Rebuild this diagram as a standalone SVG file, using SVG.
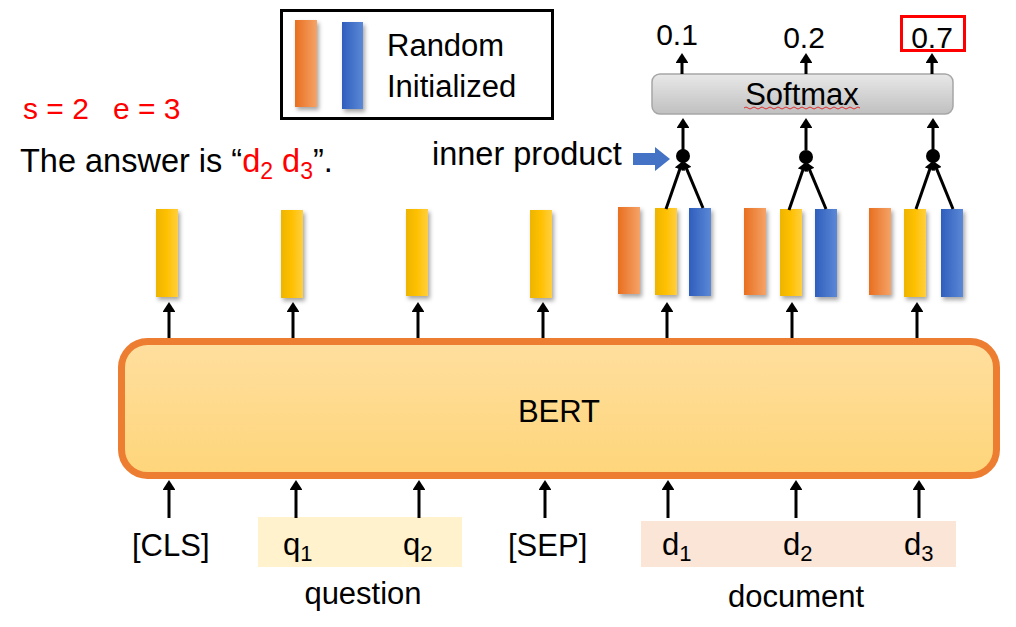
<svg xmlns="http://www.w3.org/2000/svg" width="1016" height="627" viewBox="0 0 1016 627">
<style>
text{font-family:"Liberation Sans",Arial,sans-serif;font-size:31px;fill:#000}
.red{fill:#FF0000}
.sub{font-size:22px}
.n30{font-size:30px}
.big{font-size:32.5px}
.conn{stroke:#000;stroke-width:3;fill:none}
.o{fill:url(#gO);filter:url(#sh)}
.y{fill:url(#gY);filter:url(#sh)}
.b{fill:url(#gB);filter:url(#sh)}
</style>
<defs>
<linearGradient id="gO" x1="0" x2="1" y1="0" y2="0"><stop offset="0" stop-color="#E86F1F"/><stop offset="1" stop-color="#F5A368"/></linearGradient>
<linearGradient id="gY" x1="0" x2="1" y1="0" y2="0"><stop offset="0" stop-color="#EDB500"/><stop offset="0.5" stop-color="#FFC000"/><stop offset="1" stop-color="#FFCF40"/></linearGradient>
<linearGradient id="gB" x1="0" x2="1" y1="0" y2="0"><stop offset="0" stop-color="#2E5EBD"/><stop offset="1" stop-color="#5C88D6"/></linearGradient>
<linearGradient id="gBert" x1="0" x2="0" y1="0" y2="1"><stop offset="0" stop-color="#FFDF9F"/><stop offset="1" stop-color="#FED57A"/></linearGradient>
<linearGradient id="gSm" x1="0" x2="0" y1="0" y2="1"><stop offset="0" stop-color="#E8E8E8"/><stop offset="1" stop-color="#C0C0C0"/></linearGradient>
<filter id="sh" x="-30%" y="-10%" width="170%" height="130%"><feDropShadow dx="2" dy="3" stdDeviation="2" flood-color="#000" flood-opacity="0.35"/></filter>
<marker id="ah" viewBox="0 0 10 13" refX="2" refY="6.5" markerWidth="3.3" markerHeight="4.3" orient="auto" markerUnits="strokeWidth"><path d="M0,0 L10,6.5 L0,13 Z" fill="#000"/></marker>
<marker id="ahs" viewBox="0 0 10 13" refX="2" refY="6.5" markerWidth="3" markerHeight="3.6" orient="auto" markerUnits="strokeWidth"><path d="M0,0 L10,6.5 L0,13 Z" fill="#000"/></marker>
</defs>
<rect width="1016" height="627" fill="#fff"/>

<g id="legend">
<rect x="281.5" y="10.5" width="271" height="108" fill="#fff" stroke="#000" stroke-width="3"/>
<rect class="o" x="295" y="20" width="22" height="87"/>
<rect class="b" x="342" y="22" width="21" height="87"/>
<text x="387" y="56">Random</text>
<text x="387" y="97">Initialized</text>
</g>

<g id="answer">
<text class="red n30" x="23" y="119">s = 2</text>
<text class="red n30" x="113" y="119">e = 3</text>
<text class="big" x="20" y="172">The answer is “<tspan class="red">d<tspan style="font-size:23px" dy="7">2</tspan><tspan dy="-7"> d</tspan><tspan style="font-size:23px" dy="7">3</tspan></tspan><tspan dy="-7">”.</tspan></text>
</g>

<g id="softmax">
<rect x="652" y="74" width="301" height="40" rx="8" fill="url(#gSm)" stroke="#A6A6A6" stroke-width="1.5"/>
<text x="802" y="105" text-anchor="middle">Softmax</text>
<path d="M744,108 q2,-2 4,0 t4,0 t4,0 t4,0 t4,0 t4,0 t4,0 t4,0 t4,0 t4,0 t4,0 t4,0 t4,0 t4,0 t4,0 t4,0 t4,0 t4,0 t4,0 t4,0 t4,0 t4,0 t4,0 t4,0 t4,0 t4,0 t4,0 t4,0 t4,0" fill="none" stroke="#E03030" stroke-width="1"/>
</g>

<g id="outputs">
<text class="n30" x="677" y="45" text-anchor="middle">0.1</text>
<text class="n30" x="804" y="48" text-anchor="middle">0.2</text>
<text class="n30" x="932" y="48" text-anchor="middle">0.7</text>
<rect x="901.5" y="16.5" width="63" height="34" fill="none" stroke="#FF0000" stroke-width="3"/>
</g>

<g id="inner-product">
<text class="big" x="432" y="165">inner product</text>
<polygon points="633,153 655,153 655,147 670,159 655,171 655,165 633,165" fill="#4472C4"/>
</g>

<g id="bert">
<rect x="121.5" y="341.5" width="875" height="134" rx="26" fill="url(#gBert)" stroke="#ED7D31" stroke-width="7"/>
<text x="559" y="422" text-anchor="middle">BERT</text>
</g>

<g id="vectors">
<rect class="y" x="156" y="209" width="22" height="88"/>
<rect class="y" x="281" y="210" width="22" height="88"/>
<rect class="y" x="406" y="209" width="22" height="87"/>
<rect class="y" x="530" y="210" width="22" height="88"/>
<rect class="o" x="618" y="207" width="22" height="87"/>
<rect class="y" x="655" y="208" width="22" height="87"/>
<rect class="b" x="689" y="208" width="22" height="88"/>
<rect class="o" x="744" y="208" width="22" height="87"/>
<rect class="y" x="780" y="209" width="22" height="87"/>
<rect class="b" x="815" y="209" width="22" height="88"/>
<rect class="o" x="869" y="208" width="22" height="87"/>
<rect class="y" x="904" y="209" width="22" height="88"/>
<rect class="b" x="941" y="209" width="22" height="88"/>
</g>

<g id="inputs">
<rect x="258" y="517" width="204" height="50" fill="#FFF2CC"/>
<rect x="641" y="521" width="315" height="46" fill="#FBE5D6"/>
<text x="132" y="556">[CLS]</text>
<text x="283" y="555">q<tspan class="sub" dy="6">1</tspan></text>
<text x="403" y="555">q<tspan class="sub" dy="6">2</tspan></text>
<text x="508" y="556">[SEP]</text>
<text x="662" y="555">d<tspan class="sub" dy="6">1</tspan></text>
<text x="783" y="555">d<tspan class="sub" dy="6">2</tspan></text>
<text x="904" y="555">d<tspan class="sub" dy="6">3</tspan></text>
<text x="363" y="604" text-anchor="middle">question</text>
<text x="796" y="607" text-anchor="middle">document</text>
</g>

<g id="connectors" class="conn">
<path marker-end="url(#ah)" d="M169,338 V310"/>
<path marker-end="url(#ah)" d="M293,338 V310"/>
<path marker-end="url(#ah)" d="M418,338 V310"/>
<path marker-end="url(#ah)" d="M543,338 V310"/>
<path marker-end="url(#ah)" d="M667,338 V310"/>
<path marker-end="url(#ah)" d="M792,338 V310"/>
<path marker-end="url(#ah)" d="M917,338 V310"/>
<path marker-end="url(#ah)" d="M169,518 V488"/>
<path marker-end="url(#ah)" d="M296,518 V488"/>
<path marker-end="url(#ah)" d="M419,518 V488"/>
<path marker-end="url(#ah)" d="M545,518 V488"/>
<path marker-end="url(#ah)" d="M668,518 V488"/>
<path marker-end="url(#ah)" d="M796,518 V488"/>
<path marker-end="url(#ah)" d="M919,518 V488"/>
<path marker-end="url(#ah)" d="M683,150 V126"/>
<path marker-end="url(#ah)" d="M806,150 V126"/>
<path marker-end="url(#ah)" d="M933,150 V126"/>
<path marker-end="url(#ah)" d="M682,74 V61"/>
<path marker-end="url(#ah)" d="M806,74 V61"/>
<path marker-end="url(#ah)" d="M932,74 V61"/>
<path marker-end="url(#ahs)" d="M666,209 L680.4,167.6"/>
<path marker-end="url(#ahs)" d="M703,208 L686,167.4"/>
<path marker-end="url(#ahs)" d="M789,210 L803.4,168.6"/>
<path marker-end="url(#ahs)" d="M826,209 L809,168.4"/>
<path marker-end="url(#ahs)" d="M916,209 L930.4,167.6"/>
<path marker-end="url(#ahs)" d="M953,209 L936,167.4"/>
</g>

<g id="dots" fill="#000">
<circle cx="683" cy="156" r="7"/>
<circle cx="806" cy="157" r="7"/>
<circle cx="933" cy="156" r="7"/>
</g>
</svg>
